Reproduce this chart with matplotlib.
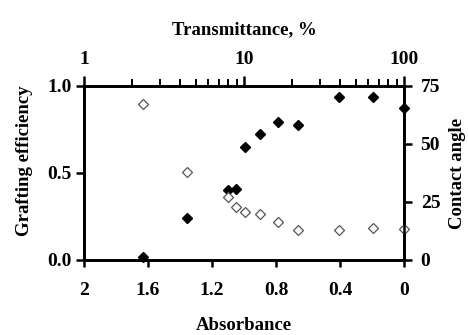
import matplotlib
matplotlib.use("Agg")
import matplotlib.pyplot as plt
from matplotlib.ticker import LogLocator, FixedLocator, NullFormatter, FixedFormatter

absorbance = [1.63, 1.358, 1.098, 1.05, 0.994, 0.90, 0.786, 0.664, 0.404, 0.192, 0.0]
grafting_eff = [0.02, 0.24, 0.40, 0.41, 0.648, 0.724, 0.795, 0.774, 0.939, 0.935, 0.872]
contact_angle = [67.2, 38.1, 27.0, 22.7, 20.8, 19.7, 16.2, 13.1, 13.1, 13.7, 13.4]

plt.rcParams['font.family'] = ['Liberation Serif', 'DejaVu Serif']
plt.rcParams['font.weight'] = 'bold'

fig = plt.figure(figsize=(4.68, 3.35), dpi=100)
ax = fig.add_axes([0.1795, 0.2239, 0.6837, 0.5194])

lw = 1.8
fs_tick = 14
fs_lab = 13.5

ax.plot(absorbance, grafting_eff, linestyle='none', marker='D', markersize=4.8,
        color='black', clip_on=False, zorder=5)
ax.set_xlim(2, 0)
ax.set_ylim(0, 1.0)
ax.set_xticks([2, 1.6, 1.2, 0.8, 0.4, 0])
ax.set_xticklabels(['2', '1.6', '1.2', '0.8', '0.4', '0'])
ax.set_yticks([0, 0.5, 1.0])
ax.set_yticklabels(['0.0', '0.5', '1.0'])
ax.set_xlabel('Absorbance', fontsize=fs_lab, fontweight='bold', labelpad=13)
ax.set_ylabel('Grafting efficiency', fontsize=fs_lab, fontweight='bold')
ax.yaxis.set_label_coords(-0.16, 0.57)
ax.tick_params(axis='x', direction='out', length=5, width=lw, labelsize=fs_tick, pad=11)
ax.tick_params(axis='y', direction='out', length=6, width=lw, labelsize=fs_tick, pad=3)

ax2 = ax.twinx()
ax2.plot(absorbance, contact_angle, linestyle='none', marker='D', markersize=4.8,
         markerfacecolor='white', markeredgecolor='#555555', markeredgewidth=0.9,
         clip_on=False, zorder=5)
ax2.set_ylim(0, 75)
ax2.set_yticks([0, 25, 50, 75])
ax2.set_yticklabels(['0', '25', '50', '75'])
ax2.set_ylabel('Contact angle', fontsize=fs_lab, fontweight='bold', labelpad=6)
ax2.tick_params(axis='y', direction='out', length=6, width=lw, labelsize=fs_tick, pad=6)

ax3 = ax.twiny()
ax3.set_xscale('log')
ax3.set_xlim(1, 100)
ax3.xaxis.set_major_locator(FixedLocator([1, 10, 100]))
ax3.xaxis.set_major_formatter(FixedFormatter(['1', '10', '100']))
ax3.xaxis.set_minor_locator(LogLocator(base=10, subs=[2, 3, 4, 5, 6, 7, 8, 9]))
ax3.xaxis.set_minor_formatter(NullFormatter())
ax3.tick_params(axis='x', which='major', direction='out', length=7, width=lw,
                labelsize=fs_tick, pad=6)
ax3.tick_params(axis='x', which='minor', direction='out', length=5, width=1.4)
ax3.set_xlabel('Transmittance, %', fontsize=fs_lab, fontweight='bold', labelpad=12)

for a in (ax, ax2, ax3):
    for s in a.spines.values():
        s.set_linewidth(lw)

fig.savefig('out.png', dpi=100)
